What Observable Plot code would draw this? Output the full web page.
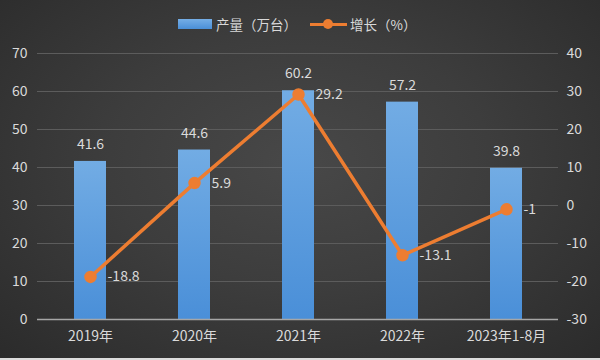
<!DOCTYPE html>
<html>
<head>
<meta charset="utf-8">
<script src="https://cdn.jsdelivr.net/npm/d3@7"></script>
<script src="https://cdn.jsdelivr.net/npm/@observablehq/plot@0.6"></script>
<style>
  html, body { margin: 0; padding: 0; background: #dcdcdc; }
  #wrap {
    position: relative; width: 600px; height: 358px; overflow: hidden;
    background: radial-gradient(ellipse at 50% 45%, #484848 0%, #3d3d3d 45%, #2b2b2b 100%);
    font-family: "Noto Sans CJK SC", "Noto Sans", sans-serif;
  }
  #chart { position: absolute; left: 0; top: 0; }
  #legend { position: absolute; left: 0; top: 0; width: 600px; height: 48px; color: #d9d9d9; font-size: 13.5px; }
  .lg { position: absolute; }
</style>
</head>
<body>
<div id="wrap">
  <div id="chart"></div>
  <div id="legend">
    <div class="lg" style="left:178px;top:19px;width:34px;height:10px;background:linear-gradient(#75aee6,#4a8fd8);"></div>
    <div class="lg" style="left:216px;top:14px;line-height:20px;">产量（万台）</div>
    <div class="lg" style="left:310px;top:22.5px;width:37px;height:3px;background:#ED7D31;"></div>
    <div class="lg" style="left:323px;top:19px;width:10px;height:10px;border-radius:50%;background:#ED7D31;"></div>
    <div class="lg" style="left:350px;top:14px;line-height:20px;">增长（%）</div>
  </div>
</div>
<script>
const categories = ["2019年", "2020年", "2021年", "2022年", "2023年1-8月"];
const production = [41.6, 44.6, 60.2, 57.2, 39.8];
const growth = [-18.8, 5.9, 29.2, -13.1, -1];
const leftTicks = [0, 10, 20, 30, 40, 50, 60, 70];
const rightOffset = 30; // right axis -30..40 maps onto left 0..70

const data = categories.map((c, i) => ({cat: c, prod: production[i], g: growth[i]}));
const textColor = "#dadada";
const orange = "#ED7D31";
const fs = 14;

const chart = Plot.plot({
  width: 600,
  height: 360,
  marginTop: 53,
  marginBottom: 41,
  marginLeft: 37,
  marginRight: 42,
  style: {background: "transparent", fontFamily: "'Noto Sans CJK SC', 'Noto Sans', sans-serif", fontSize: "14px", color: textColor},
  x: {domain: categories, padding: 0, label: null},
  y: {domain: [0, 70], label: null},
  marks: [
    () => {
      const svg = d3.create("svg:defs");
      const g = svg.append("linearGradient").attr("id", "barGrad").attr("x1", 0).attr("y1", 0).attr("x2", 0).attr("y2", 1);
      g.append("stop").attr("offset", "0%").attr("stop-color", "#72ace4");
      g.append("stop").attr("offset", "100%").attr("stop-color", "#4a8fd8");
      return svg.node();
    },
    Plot.gridY(leftTicks, {stroke: "#5c5c5c", strokeOpacity: 1, strokeWidth: 1}),
    Plot.barY(data, {x: "cat", y: "prod", fill: "url(#barGrad)", insetLeft: 36, insetRight: 36}),
    Plot.ruleY([0], {stroke: "#a6a6a6", strokeWidth: 1.5}),
    Plot.axisY(leftTicks, {anchor: "left", tickSize: 0, tickPadding: 10, fill: textColor, fontSize: fs, label: null}),
    Plot.axisY(leftTicks, {anchor: "right", tickSize: 0, tickPadding: 8, fill: textColor, fontSize: fs, label: null, tickFormat: d => d - rightOffset}),
    Plot.axisX({tickSize: 0, tickPadding: 12, fill: textColor, fontSize: fs, label: null}),
    Plot.text(data, {x: "cat", y: "prod", text: d => String(d.prod), dy: -17, fill: textColor, fontSize: fs}),
    Plot.line(data, {x: "cat", y: d => d.g + rightOffset, stroke: orange, strokeWidth: 3.5, curve: "linear"}),
    Plot.dot(data, {x: "cat", y: d => d.g + rightOffset, r: 5.5, fill: orange, stroke: orange}),
    Plot.text(data, {x: "cat", y: d => d.g + rightOffset, text: d => String(d.g), dx: 17, textAnchor: "start", fill: textColor, fontSize: fs})
  ]
});
document.getElementById("chart").appendChild(chart);
</script>
</body>
</html>
